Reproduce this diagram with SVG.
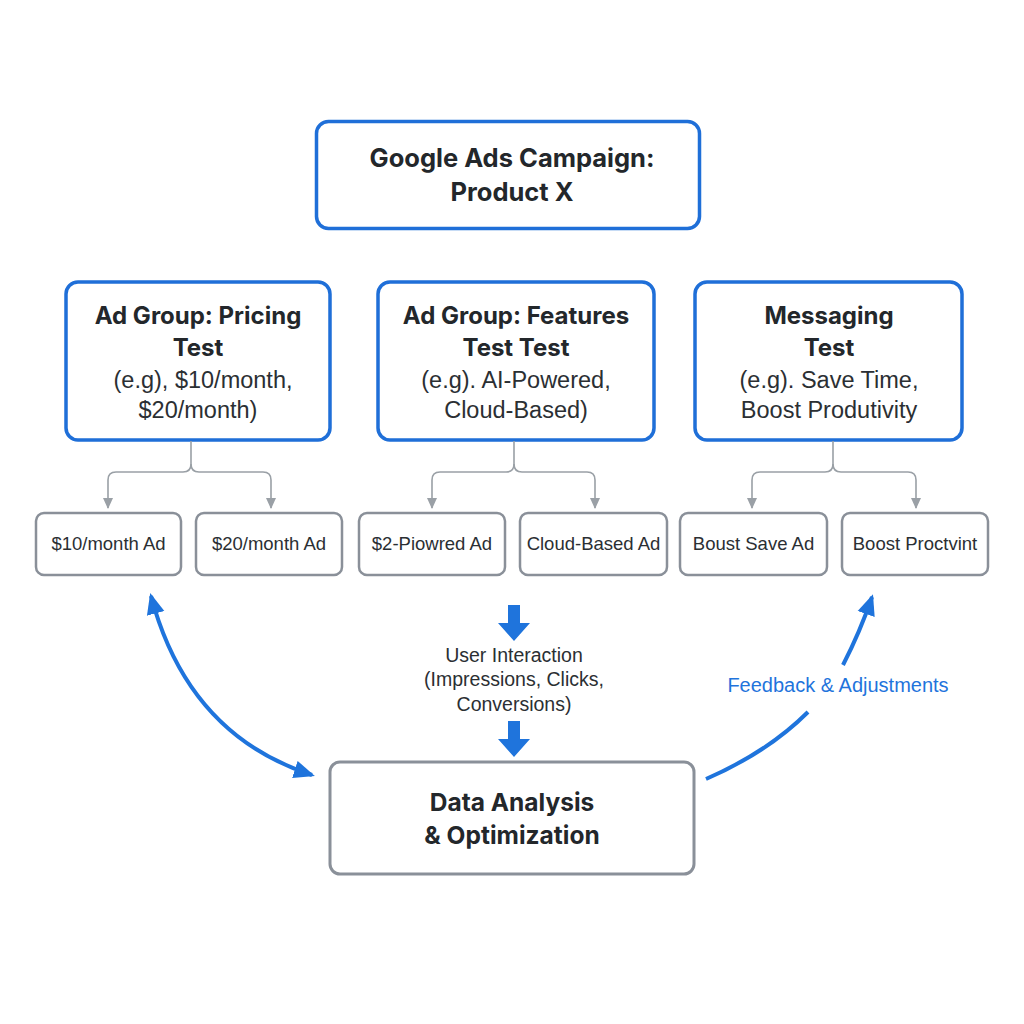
<svg xmlns="http://www.w3.org/2000/svg" width="1024" height="1024" viewBox="0 0 1024 1024">
<defs>
<style>
.bluebox{fill:#fff;stroke:#1f6fd8;stroke-width:3.5}
.graybox{fill:#fff;stroke:#8a9099;stroke-width:2.5}
.bigbox{fill:#fff;stroke:#8a9099;stroke-width:3}
.ttl{font-family:Inter,"Liberation Sans",sans-serif;font-weight:700;fill:#23272b;text-anchor:middle}
.reg{font-family:"Liberation Sans",Arial,sans-serif;fill:#2b2f33;text-anchor:middle}
.con{fill:none;stroke:#9aa0a6;stroke-width:1.6}
.blue{fill:none;stroke:#1f74dc;stroke-width:4}
</style>
<marker id="ga" markerUnits="userSpaceOnUse" markerWidth="12" markerHeight="12" viewBox="0 0 12 12" refX="10" refY="6" orient="auto"><path d="M0,1 L11,6 L0,11 Z" fill="#9aa0a6"/></marker>
<marker id="ba" markerUnits="userSpaceOnUse" markerWidth="22" markerHeight="22" viewBox="0 0 22 22" refX="18" refY="11" orient="auto-start-reverse"><path d="M0,2 L21,11 L0,20 Z" fill="#1f74dc"/></marker>
</defs>
<rect width="1024" height="1024" fill="#fff"/>

<g id="campaign">
<rect class="bluebox" x="316.5" y="121.5" width="383" height="107" rx="12"/>
<text class="ttl" x="512" y="167" font-size="25.5">Google Ads Campaign:</text>
<text class="ttl" x="512" y="201" font-size="25.5">Product X</text>
</g>

<g id="group-pricing">
<rect class="bluebox" x="66" y="282" width="264" height="158" rx="12"/>
<text class="ttl" x="198" y="324" font-size="24">Ad Group: Pricing</text>
<text class="ttl" x="198" y="356" font-size="24">Test</text>
<text class="reg" x="203" y="388" font-size="23.5">(e.g), $10/month,</text>
<text class="reg" x="198" y="418" font-size="23.5">$20/month)</text>
</g>

<g id="group-features">
<rect class="bluebox" x="378" y="282" width="276" height="158" rx="12"/>
<text class="ttl" x="516" y="324" font-size="24">Ad Group: Features</text>
<text class="ttl" x="516" y="356" font-size="24">Test Test</text>
<text class="reg" x="516" y="388" font-size="23.5">(e.g). AI-Powered,</text>
<text class="reg" x="516" y="418" font-size="23.5">Cloud-Based)</text>
</g>

<g id="group-messaging">
<rect class="bluebox" x="695" y="282" width="267" height="158" rx="12"/>
<text class="ttl" x="829" y="324" font-size="24">Messaging</text>
<text class="ttl" x="829" y="356" font-size="24">Test</text>
<text class="reg" x="829" y="388" font-size="23.5">(e.g). Save Time,</text>
<text class="reg" x="829" y="418" font-size="23.5">Boost Produtivity</text>
</g>

<g id="ad-10"><rect class="graybox" x="36" y="513" width="145" height="62" rx="8"/><text class="reg" x="108.5" y="550" font-size="18.5">$10/month Ad</text></g>
<g id="ad-20"><rect class="graybox" x="196" y="513" width="146" height="62" rx="8"/><text class="reg" x="269" y="550" font-size="18.5">$20/month Ad</text></g>
<g id="ad-ai"><rect class="graybox" x="359" y="513" width="146" height="62" rx="8"/><text class="reg" x="432" y="550" font-size="18.5">$2-Piowred Ad</text></g>
<g id="ad-cloud"><rect class="graybox" x="520" y="513" width="147" height="62" rx="8"/><text class="reg" x="593.5" y="550" font-size="18.5">Cloud-Based Ad</text></g>
<g id="ad-save"><rect class="graybox" x="680" y="513" width="147" height="62" rx="8"/><text class="reg" x="753.5" y="550" font-size="18.5">Boust Save Ad</text></g>
<g id="ad-boost"><rect class="graybox" x="842" y="513" width="146" height="62" rx="8"/><text class="reg" x="915" y="550" font-size="18.5">Boost Proctvint</text></g>

<g id="analysis">
<rect class="bigbox" x="330" y="762" width="364" height="112" rx="10"/>
<text class="ttl" x="512" y="811" font-size="24.5">Data Analysis</text>
<text class="ttl" x="512" y="844" font-size="24.5">&amp; Optimization</text>
</g>

<g id="interaction-label">
<text class="reg" x="514" y="662" font-size="19.5">User Interaction</text>
<text class="reg" x="514" y="686" font-size="19.5">(Impressions, Clicks,</text>
<text class="reg" x="514" y="711" font-size="19.5">Conversions)</text>
</g>

<g id="connectors">
<path class="con" d="M191,441 V464 Q191,472 183,472 H116 Q108,472 108,480 V508" marker-end="url(#ga)"/>
<path class="con" d="M191,464 Q191,472 199,472 H263 Q271,472 271,480 V508" marker-end="url(#ga)"/>
<path class="con" d="M514,441 V464 Q514,472 506,472 H440 Q432,472 432,480 V508" marker-end="url(#ga)"/>
<path class="con" d="M514,464 Q514,472 522,472 H587 Q595,472 595,480 V508" marker-end="url(#ga)"/>
<path class="con" d="M833,441 V464 Q833,472 825,472 H760 Q752,472 752,480 V508" marker-end="url(#ga)"/>
<path class="con" d="M833,464 Q833,472 841,472 H908 Q916,472 916,480 V508" marker-end="url(#ga)"/>

<path d="M508,605 H520 V623 H530 L514,641 L498,623 H508 Z" fill="#1f74dc"/>
<path d="M508,721 H520 V739 H530 L514,757 L498,739 H508 Z" fill="#1f74dc"/>

<path class="blue" d="M151,596 Q188,735 312,775" marker-start="url(#ba)" marker-end="url(#ba)"/>
<path class="blue" d="M706,779 Q768,752 808,712"/>
<path class="blue" d="M843,665 Q860,632 872,597" marker-end="url(#ba)"/>
<text x="838" y="692" font-family="Liberation Sans,Arial,sans-serif" font-size="20" fill="#1f74dc" text-anchor="middle">Feedback &amp; Adjustments</text>
</g>
</svg>
